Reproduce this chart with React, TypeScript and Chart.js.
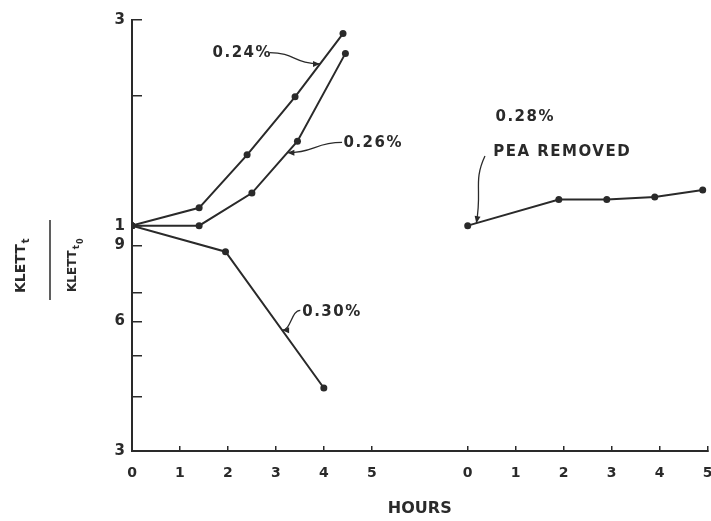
import React, { useEffect, useRef } from "react";
import { Chart, registerables } from "chart.js";

Chart.register(...registerables);

// ---- tick labels ----
const leftHourTicks = [0, 1, 2, 3, 4, 5];
const rightHourTicks = [0, 1, 2, 3, 4, 5];
const RIGHT_OFFSET = 7; // right panel's hour 0 sits at 7 on the shared axis
const yTickValues = [0.3, 0.4, 0.5, 0.6, 0.7, 0.9, 1, 2, 3];
const yTickLabels = ["3", "", "", "6", "", "9", "1", "", "3"];

// ---- series (hours, KLETT_t / KLETT_t0) ----
const hours024 = [0, 1.4, 2.4, 3.4, 4.4];
const ratio024 = [1.0, 1.1, 1.46, 1.99, 2.79];
const hours026 = [0, 1.4, 2.5, 3.45, 4.45];
const ratio026 = [1.0, 1.0, 1.19, 1.57, 2.51];
const hours030 = [0, 1.95, 4.0];
const ratio030 = [1.0, 0.87, 0.42];
const hoursPea = [0, 1.9, 2.9, 3.9, 4.9];
const ratioPea = [1.0, 1.15, 1.15, 1.165, 1.21];

const FONT = "'DejaVu Sans', sans-serif";
const INK = "#2a2a2a";

type Ann = {
  text: string;
  tx: number;
  ty: number;
  sx?: number;
  sy?: number;
  ds?: number;
  ex?: number;
  dir?: "h" | "v";
};

const annotations: Ann[] = [
  { text: "0.24%", tx: 2.3, ty: 2.52, sx: 2.87, sy: 2.52, ds: 0, ex: 3.92, dir: "h" },
  { text: "0.26%", tx: 5.03, ty: 1.55, sx: 4.38, sy: 1.56, ds: 1, ex: 3.24, dir: "h" },
  { text: "0.30%", tx: 4.17, ty: 0.63, sx: 3.51, sy: 0.636, ds: 2, ex: 3.13, dir: "h" },
  { text: "0.28%", tx: RIGHT_OFFSET + 1.2, ty: 1.79 },
  { text: "PEA REMOVED", tx: RIGHT_OFFSET + 1.97, ty: 1.48, sx: RIGHT_OFFSET + 0.36, sy: 1.45, ds: 3, ex: RIGHT_OFFSET + 0.18, dir: "v" },
];

function pointOnLine(chart: any, di: number, xv: number) {
  const meta = chart.getDatasetMeta(di);
  const px = chart.scales.x.getPixelForValue(xv);
  const pts = meta.data;
  for (let i = 0; i < pts.length - 1; i++) {
    const a = pts[i];
    const b = pts[i + 1];
    if (px >= a.x && px <= b.x) {
      const t = (px - a.x) / (b.x - a.x);
      return { x: px, y: a.y + t * (b.y - a.y) };
    }
  }
  return { x: pts[0].x, y: pts[0].y };
}

const overlay = {
  id: "overlay",
  afterDraw(chart: any) {
    const { ctx } = chart;
    const xs = chart.scales.x;
    const ys = chart.scales.y;
    ctx.save();
    ctx.fillStyle = INK;
    ctx.strokeStyle = INK;

    // y-axis title as a fraction
    ctx.save();
    ctx.translate(25, 293);
    ctx.rotate(-Math.PI / 2);
    ctx.textAlign = "left";
    ctx.textBaseline = "alphabetic";
    ctx.font = `bold 14px ${FONT}`;
    ctx.fillText("KLETT", 0, 0);
    let w = ctx.measureText("KLETT").width;
    ctx.font = `bold 10px ${FONT}`;
    ctx.fillText("t", w + 1, 4);
    ctx.restore();

    ctx.save();
    ctx.translate(76, 292);
    ctx.rotate(-Math.PI / 2);
    ctx.textAlign = "left";
    ctx.textBaseline = "alphabetic";
    ctx.font = `bold 12px ${FONT}`;
    ctx.fillText("KLETT", 0, 0);
    w = ctx.measureText("KLETT").width;
    ctx.font = `bold 9px ${FONT}`;
    ctx.fillText("t", w + 1, 3);
    const tw = ctx.measureText("t").width;
    ctx.font = `bold 8px ${FONT}`;
    ctx.fillText("0", w + 2 + tw, 7);
    ctx.restore();

    ctx.lineWidth = 1.5;
    ctx.beginPath();
    ctx.moveTo(50, 220);
    ctx.lineTo(50, 300);
    ctx.stroke();

    // annotations
    for (const a of annotations) {
      ctx.font = `bold 15px ${FONT}`;
      (ctx as any).letterSpacing = "1.5px";
      ctx.textAlign = "center";
      ctx.textBaseline = "middle";
      ctx.fillText(a.text, xs.getPixelForValue(a.tx), ys.getPixelForValue(a.ty));
      (ctx as any).letterSpacing = "0px";
      if (a.ds === undefined) continue;
      const S = { x: xs.getPixelForValue(a.sx), y: ys.getPixelForValue(a.sy) };
      const E = pointOnLine(chart, a.ds, a.ex as number);
      ctx.lineWidth = 1.3;
      ctx.beginPath();
      ctx.moveTo(S.x, S.y);
      let c2x: number, c2y: number;
      if (a.dir === "h") {
        const mx = S.x + (E.x - S.x) * 0.5;
        c2x = mx;
        c2y = E.y;
        ctx.bezierCurveTo(mx, S.y, mx, E.y, E.x, E.y);
      } else {
        const my = S.y + (E.y - S.y) * 0.5;
        c2x = E.x;
        c2y = my;
        ctx.bezierCurveTo(S.x - 12, my - 8, E.x + 6, my, E.x, E.y);
        c2x = E.x + 6;
      }
      ctx.stroke();
      // arrowhead
      const ang = Math.atan2(E.y - c2y, E.x - c2x);
      const L = 7;
      const W = 3;
      ctx.beginPath();
      ctx.moveTo(E.x, E.y);
      ctx.lineTo(E.x - L * Math.cos(ang) + W * Math.sin(ang), E.y - L * Math.sin(ang) - W * Math.cos(ang));
      ctx.lineTo(E.x - L * Math.cos(ang) - W * Math.sin(ang), E.y - L * Math.sin(ang) + W * Math.cos(ang));
      ctx.closePath();
      ctx.fill();
    }
    ctx.restore();
  },
};

export default function App() {
  const ref = useRef<HTMLCanvasElement>(null);

  useEffect(() => {
    const canvas = ref.current;
    if (!canvas) return;
    const toPts = (hs: number[], vs: number[], off = 0) => hs.map((h, i) => ({ x: h + off, y: vs[i] }));
    const mk = (label: string, data: { x: number; y: number }[]) => ({
      label,
      data,
      showLine: true,
      borderColor: INK,
      backgroundColor: INK,
      borderWidth: 2,
      pointRadius: 3.5,
      pointHoverRadius: 3.5,
      pointBorderWidth: 0,
      tension: 0,
    });

    const chart = new Chart(canvas, {
      type: "scatter",
      data: {
        datasets: [
          mk("0.24%", toPts(hours024, ratio024)),
          mk("0.26%", toPts(hours026, ratio026)),
          mk("0.30%", toPts(hours030, ratio030)),
          mk("0.28% PEA removed", toPts(hoursPea, ratioPea, RIGHT_OFFSET)),
        ],
      },
      options: {
        animation: false,
        responsive: false,
        events: [],
        layout: { padding: { left: 0, right: 1, top: 20, bottom: 0 } },
        plugins: { legend: { display: false }, tooltip: { enabled: false } },
        scales: {
          x: {
            type: "linear",
            position: "bottom",
            min: 0,
            max: RIGHT_OFFSET + 5,
            afterBuildTicks: (s: any) => {
              s.ticks = [
                ...leftHourTicks.map((v) => ({ value: v })),
                ...rightHourTicks.map((v) => ({ value: v + RIGHT_OFFSET })),
              ];
            },
            afterFit: (s: any) => {
              s.height = 70;
              s.paddingLeft = 0;
              s.paddingRight = 0;
            },
            ticks: {
              autoSkip: false,
              maxRotation: 0,
              padding: 19,
              color: INK,
              font: { family: FONT, size: 14, weight: "bold" },
              callback: (v: any) => String(v >= RIGHT_OFFSET ? v - RIGHT_OFFSET : v),
            },
            grid: { drawOnChartArea: false, drawTicks: true, tickLength: -5, color: INK, lineWidth: 1.5 },
            border: { display: true, color: INK, width: 2 },
            title: {
              display: true,
              text: "HOURS",
              color: INK,
              font: { family: FONT, size: 16, weight: "bold" },
              padding: { top: 0, bottom: 3 },
            },
          },
          y: {
            type: "logarithmic",
            position: "left",
            min: 0.3,
            max: 3,
            afterBuildTicks: (s: any) => {
              s.ticks = yTickValues.map((v) => ({ value: v }));
            },
            afterFit: (s: any) => {
              s.width = 132;
              s.paddingTop = 0;
              s.paddingBottom = 0;
            },
            ticks: {
              autoSkip: false,
              padding: 17,
              color: INK,
              font: { family: FONT, size: 15, weight: "bold" },
              callback: (v: any) => {
                const i = yTickValues.findIndex((t) => Math.abs(t - v) < 1e-9);
                return i >= 0 ? yTickLabels[i] : "";
              },
            },
            grid: { drawOnChartArea: false, drawTicks: true, tickLength: -10, color: INK, lineWidth: 1.5 },
            border: { display: true, color: INK, width: 2 },
          },
        },
      },
      plugins: [overlay],
    } as any);

    return () => chart.destroy();
  }, []);

  return (
    <div style={{ position: "absolute", left: 0, top: 0, width: 711, height: 521, background: "#fff" }}>
      <canvas ref={ref} width={711} height={521} style={{ display: "block" }} />
    </div>
  );
}
